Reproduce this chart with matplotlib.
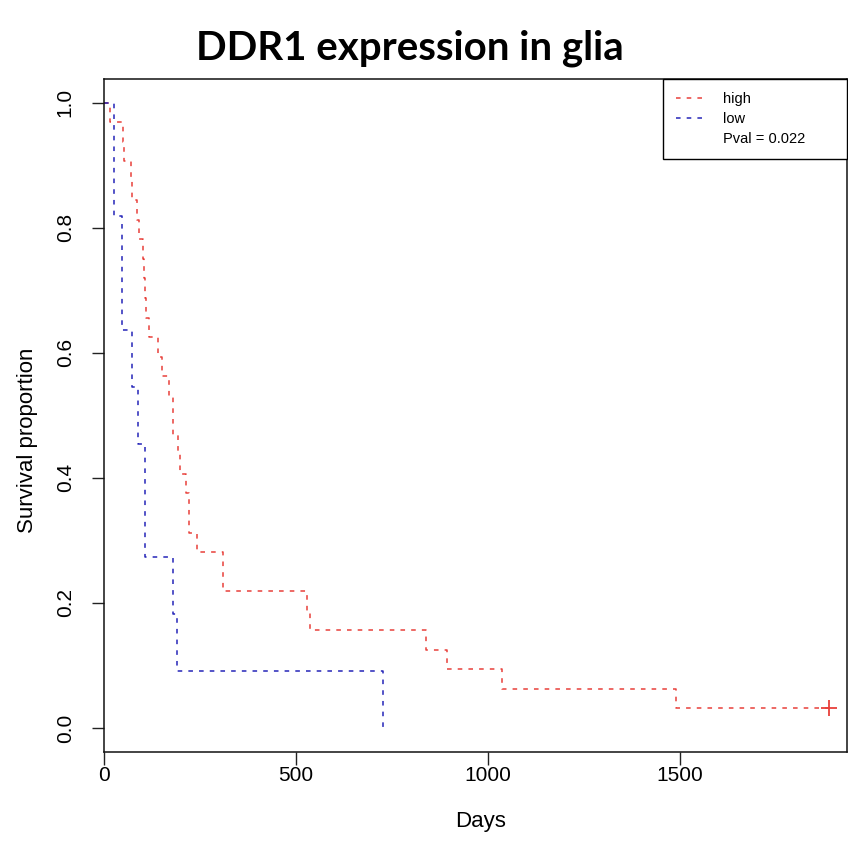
import numpy as np
import matplotlib
matplotlib.use("Agg")
import matplotlib.pyplot as plt
from matplotlib.lines import Line2D

# Kaplan-Meier curves
# high expression group (n = 32), last point censored
high_days = [0, 16, 50, 53, 70, 74, 85, 92, 101, 104, 107, 109, 118, 141, 150,
             169, 179, 193, 198, 213, 221, 241, 311, 528, 536, 838, 892, 1036,
             1490, 1888]
high_left = [32, 31, 30, 29, 28, 27, 26, 25, 24, 23, 22, 21, 20, 19, 18,
             17, 15, 14, 13, 12, 10, 9, 7, 6, 5, 4, 3, 2, 1, 1]
high_n = 32

# low expression group (n = 11)
low_days = [0, 26, 46, 72, 89, 107, 180, 191, 727]
low_left = [11, 9, 7, 6, 5, 3, 2, 1, 0]
low_n = 11

labels = ["high", "low"]
pval_text = "Pval = 0.022"
title = "DDR1 expression in glia"
xticks = [0, 500, 1000, 1500]
yticks = [0.0, 0.2, 0.4, 0.6, 0.8, 1.0]

red = "#e8403a"
blue = "#2424b8"
dash = (0, (3, 4))

plt.rcParams['font.family'] = ['Liberation Sans', 'DejaVu Sans']

fig = plt.figure(figsize=(8.48, 8.55), dpi=100)
ax = fig.add_axes([104/848, 103/855, 743/848, 673/855])

high_surv = np.array(high_left) / high_n
low_surv = np.array(low_left) / low_n

ax.step(high_days, high_surv, where='post', color=red, lw=1.1, linestyle=dash)
ax.step(low_days, low_surv, where='post', color=blue, lw=1.1, linestyle=dash)
# censored mark at the end of the high curve
ax.plot(high_days[-1], high_surv[-1], marker='+', color=red, ms=11, mew=1.3)

ax.set_xlim(0, 1935)
ax.set_ylim(-0.0384, 1.0376)
ax.set_xticks(xticks)
ax.set_yticks(yticks)
ax.set_xticklabels([str(v) for v in xticks])
ax.set_yticklabels(["%.1f" % v for v in yticks], rotation=90, va='center')
ax.tick_params(axis='both', length=9, width=1, labelsize=15, color='#222222')
ax.tick_params(axis='x', pad=1)
ax.tick_params(axis='y', pad=12)
for s in ax.spines.values():
    s.set_linewidth(1.1)
    s.set_color('#111111')

ax.set_xlabel("Days", fontsize=16)
ax.set_ylabel("Survival proportion", fontsize=16)
ax.xaxis.set_label_coords(0.5074, -0.0877)
ax.yaxis.set_label_coords(-0.0888, 0.4636)

handles = [Line2D([], [], color=red, lw=1.1, linestyle=dash),
           Line2D([], [], color=blue, lw=1.1, linestyle=dash),
           Line2D([], [], color='none')]
leg = ax.legend(handles, labels + [pval_text], loc='upper right',
                bbox_to_anchor=(0.752, 0.884, 0.248, 0.116), mode='expand',
                borderaxespad=0, fancybox=False, edgecolor='black',
                fontsize=10.5, handlelength=2.2, handletextpad=1.0,
                labelspacing=0.42, borderpad=0.9, framealpha=1)
leg.get_frame().set_linewidth(1.0)

fig.text(409.5/848, 1 - 59.5/855, title, ha='center', va='baseline',
         fontsize=29, fontweight='bold', family=['Lato', 'DejaVu Sans'])

fig.savefig("out.png", dpi=100)
